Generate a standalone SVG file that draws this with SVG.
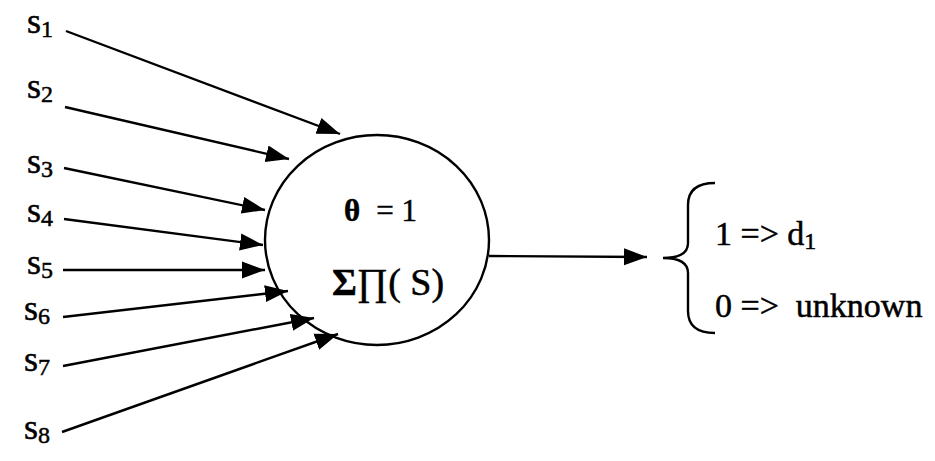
<svg xmlns="http://www.w3.org/2000/svg" width="935" height="461" viewBox="0 0 935 461">
<style>
.t{font-family:"Liberation Serif","Times New Roman",serif;fill:#000;stroke:#000;stroke-width:0.5;white-space:pre}
.lbl{font-size:36px}
.sub{font-size:24px}
.c{stroke:#000;stroke-width:2.4;fill:none}
</style>
<defs>
<marker id="ah" markerUnits="userSpaceOnUse" markerWidth="26" markerHeight="20" viewBox="0 0 26 20" refX="23" refY="10" orient="auto">
<path d="M0,1.5 L23,10 L0,18.5 Z" fill="#000" stroke="none"/>
</marker>
</defs>
<rect width="935" height="461" fill="#fff"/>
<g id="inputs">
<g id="s1"><text class="t lbl" x="27" y="33">s<tspan class="sub" dy="4">1</tspan></text></g>
<g id="s2"><text class="t lbl" x="27" y="98">s<tspan class="sub" dy="4">2</tspan></text></g>
<g id="s3"><text class="t lbl" x="27" y="173">s<tspan class="sub" dy="4">3</tspan></text></g>
<g id="s4"><text class="t lbl" x="27" y="222">s<tspan class="sub" dy="4">4</tspan></text></g>
<g id="s5"><text class="t lbl" x="27" y="274">s<tspan class="sub" dy="4">5</tspan></text></g>
<g id="s6"><text class="t lbl" x="24" y="320">s<tspan class="sub" dy="4">6</tspan></text></g>
<g id="s7"><text class="t lbl" x="24" y="371">s<tspan class="sub" dy="4">7</tspan></text></g>
<g id="s8"><text class="t lbl" x="24" y="439">s<tspan class="sub" dy="4">8</tspan></text></g>
</g>
<g id="neuron">
<ellipse cx="377" cy="240" rx="112" ry="105" stroke="#000" stroke-width="2.4" fill="none"/>
<text class="t" x="344" y="221" font-size="31" font-weight="bold">θ<tspan dx="16" font-weight="normal">= 1</tspan></text>
<text class="t" x="332" y="295" font-size="38"><tspan font-weight="bold">Σ</tspan>∏( S)</text>
</g>
<g id="output">
<path class="c" d="M715,183 Q688,183 688,205 L688,243 Q688,258 663,258 Q688,258 688,273 L688,311 Q688,333 715,333" stroke-width="2.2"/>
<text class="t" x="715" y="245" font-size="34">1 =&gt; d<tspan class="sub" dy="4">1</tspan></text>
<text class="t" x="715" y="317" font-size="34">0 =&gt;  unknown</text>
</g>
<g id="connectors" class="c">
<line x1="66" y1="31" x2="340" y2="134" marker-end="url(#ah)"/>
<line x1="65" y1="107" x2="289" y2="159" marker-end="url(#ah)"/>
<line x1="64" y1="168" x2="265" y2="210" marker-end="url(#ah)"/>
<line x1="64" y1="219" x2="263" y2="245" marker-end="url(#ah)"/>
<line x1="63" y1="270" x2="265" y2="270" marker-end="url(#ah)"/>
<line x1="63" y1="317" x2="288" y2="291" marker-end="url(#ah)"/>
<line x1="63" y1="366" x2="314" y2="318" marker-end="url(#ah)"/>
<line x1="62" y1="432" x2="338" y2="334" marker-end="url(#ah)"/>
<line x1="489" y1="256" x2="647" y2="257" marker-end="url(#ah)"/>
</g>
</svg>
